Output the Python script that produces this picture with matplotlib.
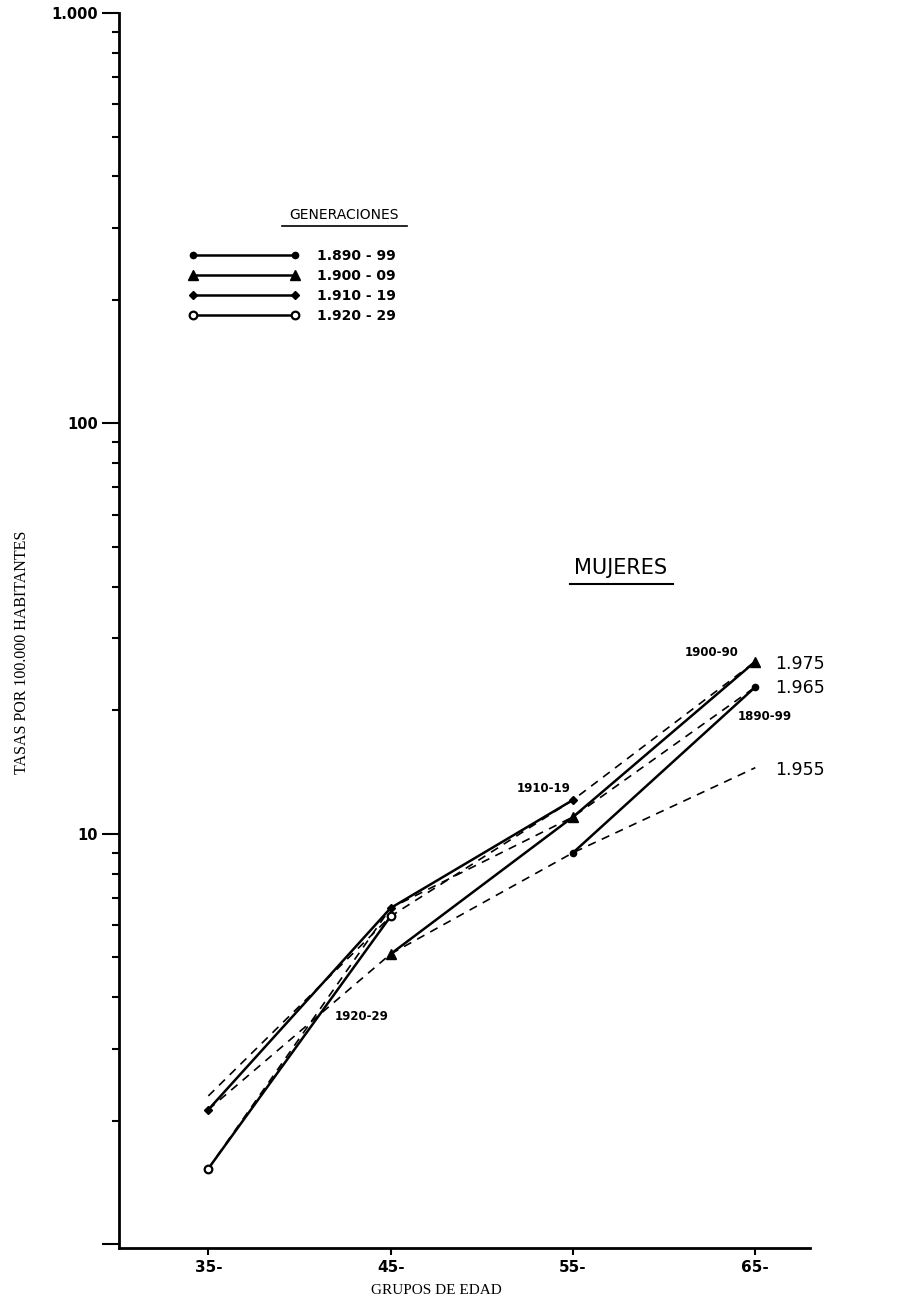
import matplotlib
matplotlib.use("Agg")
import matplotlib.pyplot as plt
from matplotlib.lines import Line2D
from matplotlib.ticker import FixedLocator, NullFormatter

# age groups on the x axis
ages = [35, 45, 55, 65]
age_labels = ["35-", "45-", "55-", "65-"]

# cross-sectional rates per 100.000 (dashed lines)
rate_1955 = [2.13, 5.1, 9.0, 14.5]
rate_1965 = [1.53, 6.6, 11.0, 22.8]
rate_1975 = [2.3, 6.3, 12.1, 26.3]
period_labels = ["1.955", "1.965", "1.975"]

# generations (solid lines): ages reached and rates
gen_1890_ages = [55, 65]
gen_1890 = [9.0, 22.8]
gen_1900_ages = [45, 55, 65]
gen_1900 = [5.1, 11.0, 26.3]
gen_1910_ages = [35, 45, 55]
gen_1910 = [2.13, 6.6, 12.1]
gen_1920_ages = [35, 45]
gen_1920 = [1.53, 6.3]
gen_labels = ["1.890 - 99", "1.900 - 09", "1.910 - 19", "1.920 - 29"]

W, H = 902, 1297
fig = plt.figure(figsize=(W / 100, H / 100), dpi=100)


def fx(px):
    return px / W


def fy(py):
    return 1 - py / H


ax = fig.add_axes([fx(119), fy(1248), fx(810) - fx(119), fy(13) - fy(1248)])
ax.set_yscale("log")
ax.set_ylim(0.98, 1000)
ax.set_xlim(30.1, 68.0)

dash = dict(color="black", lw=1.2, linestyle=(0, (5, 4)))
ax.plot(ages, rate_1955, **dash)
ax.plot(ages, rate_1965, **dash)
ax.plot(ages, rate_1975, **dash)

solid = dict(color="black", lw=1.8)
h1, = ax.plot(gen_1890_ages, gen_1890, marker="o", ms=4.5, **solid)
h2, = ax.plot(gen_1900_ages, gen_1900, marker="^", ms=6.5, **solid)
h3, = ax.plot(gen_1910_ages, gen_1910, marker="D", ms=4.5, **solid)
h4, = ax.plot(gen_1920_ages, gen_1920, marker="o", ms=5.5, mfc="white",
              mew=1.6, **solid)

for s in ["top", "right"]:
    ax.spines[s].set_visible(False)
for s in ["left", "bottom"]:
    ax.spines[s].set_linewidth(2)

ax.set_xticks(ages)
ax.set_xticklabels(age_labels, fontsize=11, fontweight="bold")
ax.tick_params(axis="x", length=5, width=1.5, pad=4)
ax.set_yticks([1, 10, 100, 1000])
ax.set_yticklabels(["", "10", "100", "1.000"], fontsize=10.5, fontweight="bold")
ax.yaxis.set_minor_locator(FixedLocator(
    [m * 10 ** e for e in range(0, 3) for m in range(2, 10)]))
ax.yaxis.set_minor_formatter(NullFormatter())
ax.tick_params(axis="y", which="major", length=12, width=1.5, pad=3)
ax.tick_params(axis="y", which="minor", length=5, width=1.5)

serif = ["Liberation Serif", "DejaVu Serif"]
fig.text(fx(22), fy(652), "TASAS POR 100.000 HABITANTES", rotation=90,
         ha="center", va="center", fontsize=11.5, family=serif)
fig.text(fx(436), fy(1290), "GRUPOS DE EDAD", ha="center", va="center",
         fontsize=11, family=serif)

# legend
leg = ax.legend([h1, h2, h3, h4], gen_labels, numpoints=2, handlelength=7.9,
                handletextpad=1.3, labelspacing=0.42, frameon=False,
                borderpad=0, borderaxespad=0, loc="upper left",
                bbox_to_anchor=(fx(189), fy(249)), bbox_transform=fig.transFigure,
                prop=dict(size=10, weight="bold"))
fig.text(fx(344), fy(215), "GENERACIONES", ha="center", va="center", fontsize=10)
fig.add_artist(Line2D([fx(282), fx(407)], [fy(226), fy(226)], color="black", lw=1.2))

fig.text(fx(621), fy(568), "MUJERES", ha="center", va="center", fontsize=15)
fig.add_artist(Line2D([fx(570), fx(673)], [fy(584), fy(584)], color="black", lw=1.5))

# curve labels
lbl = dict(fontsize=8.5, fontweight="bold", va="center", ha="left")
fig.text(fx(335), fy(1016), "1920-29", **lbl)
fig.text(fx(517), fy(789), "1910-19", **lbl)
fig.text(fx(685), fy(653), "1900-90", **lbl)
fig.text(fx(738), fy(716), "1890-99", **lbl)

plab = dict(fontsize=12.5, va="center", ha="left")
fig.text(fx(775), fy(770), period_labels[0], **plab)
fig.text(fx(775), fy(688), period_labels[1], **plab)
fig.text(fx(775), fy(664), period_labels[2], **plab)

fig.savefig("out.png", dpi=100)
